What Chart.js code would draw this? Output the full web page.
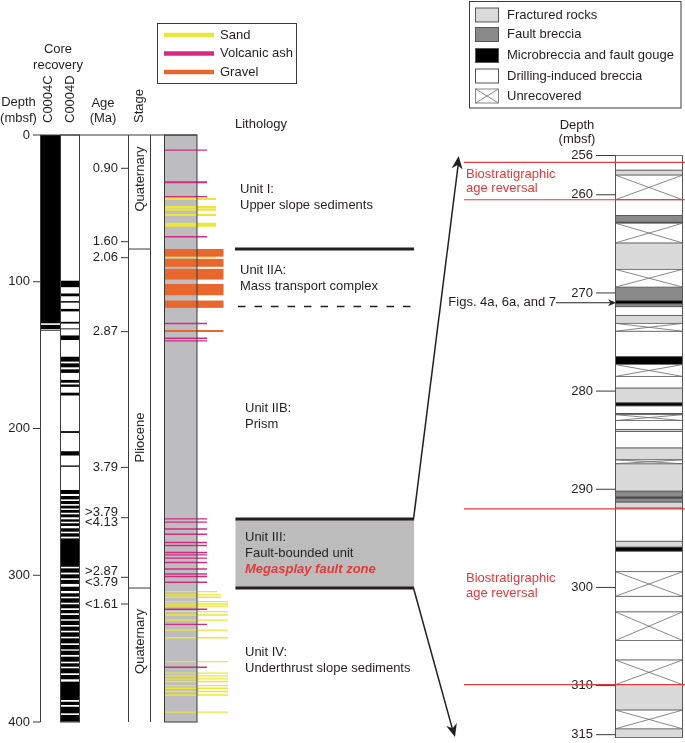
<!DOCTYPE html>
<html>
<head>
<meta charset="utf-8">
<script src="https://cdn.jsdelivr.net/npm/chart.js@4.4.1/dist/chart.umd.min.js"></script>
<style>
  html, body { margin: 0; padding: 0; background: #fff; }
  canvas { display: block; }
</style>
</head>
<body>
<canvas id="core" width="685" height="743"></canvas>
<script>
// ---- left panel: Site C0004, depth in mbsf ----
const depthTicks = [0, 100, 200, 300, 400];

// age picks (mbsf) and their labels (Ma)
const ageDepths = [22.7, 72.7, 83.6, 134.0, 226.5, 260.8, 301.4, 319.6];
const ageLabels = [['0.90'], ['1.60'], ['2.06'], ['2.87'], ['3.79'], ['>3.79', '<4.13'], ['>2.87', '<3.79'], ['<1.61']];

const stageNames = ['Quaternary', 'Pliocene', 'Quaternary'];
const stageBounds = [0, 77.7, 308.7, 400];
const stageLabelDepths = [30.0, 206.1, 345.1];

// recovered core intervals (mbsf)
const recoveryC0004C = [[0, 128.3], [129.4, 132.2], [132.7, 133.3]];
const recoveryC0004D = [
  [99.3, 103.7], [108.0, 109.9], [113.2, 114.2], [118.5, 120.2], [127.3, 128.5], [131.8, 132.4],
  [136.6, 139.7], [151.1, 154.4], [155.6, 158.3], [159.7, 162.1], [166.9, 168.8], [170.0, 171.6],
  [175.6, 177.5], [201.8, 203.0], [215.5, 218.4], [225.2, 226.1],
  [241.9, 244.6], [246.0, 248.3], [249.4, 251.5], [252.6, 254.5], [255.5, 257.4], [258.5, 260.5],
  [261.9, 263.5], [264.6, 266.4], [268.0, 270.3], [271.4, 273.7], [274.9, 294.2], [295.3, 298.2],
  [299.4, 302.1], [303.2, 305.9], [307.8, 310.7], [312.3, 314.6], [315.7, 318.7], [319.8, 322.5],
  [323.7, 325.9], [327.1, 330.0], [331.0, 333.9], [335.0, 337.8], [338.9, 341.9], [343.0, 346.4],
  [347.5, 350.5], [351.4, 354.3], [355.5, 358.9], [360.0, 362.3], [363.4, 366.8], [368.0, 370.9],
  [372.5, 385.0], [386.2, 388.4], [389.6, 394.1], [395.2, 399.8]
];

// lithology picks (mbsf)
const volcanicAsh = [10.3, 32.2, 42.0, 69.3, 128.4, 138.5, 140.3,
  261.6, 263.8, 268.5, 272.1, 277.7, 279.7, 284.5, 286.1, 288.3, 291.3, 295.7, 299.1, 300.9, 304.8,
  323.2, 333.5, 362.7];
const sand = [43.6, 49.2, 50.8, 54.5, 60.6, 61.8, 83.3,
  311.1, 313.4, 315.0, 318.0, 319.6, 321.0, 324.8, 327.1, 330.6, 337.4, 342.6, 358.8,
  366.7, 368.6, 370.6, 372.4, 375.2, 377.0, 379.2, 381.6, 393.3];
const gravel = [[77.7, 82.9], [84.4, 89.8], [91.2, 98.5], [101.5, 109.2], [112.8, 117.8]];
const gravelThin = [133.5];

// lithologic units
const unitNames = ['Unit I:', 'Unit IIA:', 'Unit IIB:', 'Unit III:', 'Unit IV:'];
const unitDescs = ['Upper slope sediments', 'Mass transport complex', 'Prism', 'Fault-bounded unit', 'Underthrust slope sediments'];
const unitLabelDepths = [36.8, 92.0, 186.2, 274.1, 352.8];
const unitBoundarySolid = 77.7;
const unitBoundaryDashed = 116.9;
const faultZone = [261.7, 308.7];

// ---- right panel: megasplay fault zone detail (mbsf) ----
const detailTicks = [256, 260, 270, 280, 290, 300, 310, 315];
const fracturedRocks = [[257.5, 258.0], [264.9, 267.6], [272.3, 273.1], [279.7, 281.2], [283.9, 284.1],
  [285.8, 287.0], [287.4, 290.2], [291.3, 291.9], [295.3, 295.9], [309.9, 312.5], [314.4, 315.3]];
const faultBreccia = [[262.1, 262.8], [269.4, 270.8], [271.1, 271.4], [290.2, 290.8], [290.9, 291.3]];
const microbreccia = [[262.8, 262.9], [270.8, 271.1], [276.5, 277.3], [281.2, 281.5], [282.3, 282.4],
  [290.8, 290.9], [295.9, 296.3]];
const drillingBreccia = [[256.0, 257.5], [260.5, 262.1], [271.4, 272.3], [273.9, 276.5], [278.5, 279.7],
  [281.5, 282.3], [283.0, 283.9], [284.1, 285.8], [291.9, 295.3], [296.3, 298.4], [300.9, 302.5], [305.4, 307.4]];
const unrecovered = [[258.0, 260.5], [262.9, 264.9], [267.6, 269.4], [273.1, 273.9], [277.3, 278.5],
  [282.4, 283.0], [287.0, 287.4], [298.4, 300.9], [302.5, 305.4], [307.4, 309.9], [312.5, 314.4]];
const ageReversals = [[256.7, 260.5], [292.0, 309.9]];
const reversalLabelDepths = [258.6, 299.8];
const figsDepth = 271.0;

// ---- styles ----
const FONT = '13px "Liberation Sans", Arial, sans-serif';
const INK = '#231f20';
const FRAME = '#3a3a3a';
const LITHO_GREY = '#bdbdc1';
const SAND = '#ece63a';
const ASH = '#d62a80';
const GRAVEL = '#e8672c';
const RED = '#e4393b';
const FRACT = '#dadada';
const BRECCIA = '#8a8a8a';

function seg(ctx, x1, y1, x2, y2, color, w, dash) {
  ctx.save();
  ctx.beginPath();
  ctx.strokeStyle = color;
  ctx.lineWidth = w;
  ctx.setLineDash(dash || []);
  ctx.moveTo(x1, y1);
  ctx.lineTo(x2, y2);
  ctx.stroke();
  ctx.restore();
}

function txt(ctx, s, x, y, align, color, font) {
  ctx.save();
  ctx.font = font || FONT;
  ctx.fillStyle = color || INK;
  ctx.textAlign = align || 'left';
  ctx.textBaseline = 'middle';
  ctx.fillText(s, x, y);
  ctx.restore();
}

function vtxt(ctx, s, x, y, align) {
  ctx.save();
  ctx.translate(x, y);
  ctx.rotate(-Math.PI / 2);
  txt(ctx, s, 0, 0, align);
  ctx.restore();
}

function arrowHead(ctx, x1, y1, x2, y2, len, half) {
  const a = Math.atan2(y2 - y1, x2 - x1);
  const bx = x2 - len * Math.cos(a), by = y2 - len * Math.sin(a);
  ctx.save();
  ctx.fillStyle = INK;
  ctx.beginPath();
  ctx.moveTo(x2, y2);
  ctx.lineTo(bx + half * Math.sin(a), by - half * Math.cos(a));
  ctx.lineTo(x2 - 0.7 * len * Math.cos(a), y2 - 0.7 * len * Math.sin(a));
  ctx.lineTo(bx - half * Math.sin(a), by + half * Math.cos(a));
  ctx.closePath();
  ctx.fill();
  ctx.restore();
}

function crossBox(ctx, x1, y1, x2, y2) {
  ctx.save();
  ctx.fillStyle = '#fff';
  ctx.fillRect(x1, y1, x2 - x1, y2 - y1);
  ctx.strokeStyle = '#6a6a6a';
  ctx.lineWidth = 0.8;
  ctx.beginPath();
  ctx.moveTo(x1, y1); ctx.lineTo(x2, y2);
  ctx.moveTo(x2, y1); ctx.lineTo(x1, y2);
  ctx.stroke();
  ctx.strokeRect(x1, y1, x2 - x1, y2 - y1);
  ctx.restore();
}

const drawCore = {
  id: 'drawCore',
  afterDraw(chart) {
    const ctx = chart.ctx;
    const L = v => chart.scales.yL.getPixelForValue(v);
    const R = v => chart.scales.yR.getPixelForValue(v);
    const top = L(0), bot = L(400);

    // core recovery columns
    ctx.fillStyle = '#000';
    recoveryC0004C.forEach(([a, b]) => ctx.fillRect(40, L(a), 20, L(b) - L(a)));
    recoveryC0004D.forEach(([a, b]) => ctx.fillRect(60.5, L(a), 19, L(b) - L(a)));

    // lithology column
    ctx.fillStyle = LITHO_GREY;
    ctx.fillRect(164, top, 33, bot - top);
    sand.forEach(d => {
      const reach = d < 150 ? 216 : (d < 312 ? 217 : (d < 316 ? 221 : 228));
      seg(ctx, 164, L(d), reach, L(d), SAND, d < 150 ? 2.2 : 1.3);
    });
    volcanicAsh.forEach(d => seg(ctx, 164, L(d), 207, L(d), ASH, d === 32.2 ? 2.2 : 1.4));
    ctx.fillStyle = GRAVEL;
    gravel.forEach(([a, b]) => ctx.fillRect(164, L(a), 59.5, L(b) - L(a)));
    gravelThin.forEach(d => seg(ctx, 164, L(d), 223.5, L(d), GRAVEL, 2));

    // column frames
    ctx.save();
    ctx.strokeStyle = FRAME;
    ctx.lineWidth = 1;
    ctx.strokeRect(164.5, top, 32.5, bot - top);
    ctx.strokeRect(60.5, top, 19, bot - top);
    [40.5, 128.5, 150.5].forEach(x => seg(ctx, x, top, x, bot, FRAME, 1));
    seg(ctx, 40, top, 197, top, FRAME, 1.2);
    ctx.restore();

    // depth axis
    depthTicks.forEach(v => {
      seg(ctx, 33, L(v), 40.5, L(v), FRAME, 1);
      txt(ctx, String(v), 30, L(v), 'right');
    });

    // age picks
    ageDepths.forEach((d, i) => {
      seg(ctx, 121, L(d), 128.5, L(d), FRAME, 1);
      const lab = ageLabels[i];
      if (lab.length === 1) txt(ctx, lab[0], 118, L(d), 'right');
      else { txt(ctx, lab[0], 118, L(d) - 5.5, 'right'); txt(ctx, lab[1], 118, L(d) + 5, 'right'); }
    });

    // stages
    stageBounds.slice(1, -1).forEach(d => seg(ctx, 128.5, L(d), 150.5, L(d), FRAME, 1));
    stageNames.forEach((s, i) => vtxt(ctx, s, 140, L(stageLabelDepths[i]), 'center'));

    // units
    ctx.fillStyle = '#bcbcbc';
    ctx.fillRect(235.5, L(faultZone[0]), 178.5, L(faultZone[1]) - L(faultZone[0]));
    faultZone.forEach(d => seg(ctx, 235.5, L(d), 414, L(d), INK, 3));
    seg(ctx, 235, L(unitBoundarySolid), 414, L(unitBoundarySolid), INK, 3.2);
    seg(ctx, 238, L(unitBoundaryDashed), 414, L(unitBoundaryDashed), INK, 1.6, [7.5, 9]);
    unitNames.forEach((n, i) => {
      const y = L(unitLabelDepths[i]);
      const x = i < 2 ? 240 : 245;
      txt(ctx, n, x, y, 'left');
      txt(ctx, unitDescs[i], x, y + 16, 'left');
    });
    txt(ctx, 'Megasplay fault zone', 245, L(unitLabelDepths[3]) + 32, 'left', RED,
      'italic bold 13px "Liberation Sans", Arial, sans-serif');

    // ---- right panel ----
    const xa = 615.5, xb = 682.5;
    const box = (list, fill) => list.forEach(([a, b]) => {
      ctx.save();
      ctx.fillStyle = fill;
      ctx.fillRect(xa, R(a), xb - xa, R(b) - R(a));
      ctx.strokeStyle = '#555';
      ctx.lineWidth = 0.8;
      ctx.strokeRect(xa, R(a), xb - xa, R(b) - R(a));
      ctx.restore();
    });
    box(drillingBreccia, '#fff');
    box(fracturedRocks, FRACT);
    box(faultBreccia, BRECCIA);
    box(microbreccia, '#000');
    unrecovered.forEach(([a, b]) => crossBox(ctx, xa, R(a), xb, R(b)));
    seg(ctx, xa, R(256), xa, R(315.3), '#555', 1);
    seg(ctx, xb, R(256), xb, R(315.3), '#555', 1);

    detailTicks.forEach(v => {
      seg(ctx, 596, R(v), xa, R(v), FRAME, 1);
      txt(ctx, String(v), 593, R(v), 'right');
    });

    ageReversals.forEach(([a, b], i) => {
      seg(ctx, 464, R(a), 685, R(a), RED, 1.1);
      seg(ctx, 464, R(b), 685, R(b), RED, 1.1);
      const y = R(reversalLabelDepths[i]);
      txt(ctx, 'Biostratigraphic', 466, y - 7, 'left', RED);
      txt(ctx, 'age reversal', 466, y + 7.5, 'left', RED);
    });

    // pointer to figures
    const yf = R(figsDepth);
    txt(ctx, 'Figs. 4a, 6a, and 7', 556, yf, 'right');
    seg(ctx, 556, yf, 610, yf, INK, 1);
    arrowHead(ctx, 556, yf, 616, yf, 8, 3.5);

    // zoom arrows from the fault zone box
    const x0 = 413.5;
    const t0 = L(faultZone[0]), t1 = R(256.05);
    seg(ctx, x0, t0, 458.5, t1 + 6, INK, 1.5);
    arrowHead(ctx, x0, t0, 458.7, t1, 13, 5.5);
    const b0 = L(faultZone[1]), b1 = R(315.25);
    seg(ctx, x0, b0, 453, b1 - 6, INK, 1.5);
    arrowHead(ctx, x0, b0, 455, b1, 13, 5.5);

    // ---- headers ----
    txt(ctx, 'Depth', 18.5, 102, 'center');
    txt(ctx, '(mbsf)', 18.5, 118, 'center');
    txt(ctx, 'Core', 58, 49, 'center');
    txt(ctx, 'recovery', 58, 65, 'center');
    vtxt(ctx, 'C0004C', 48.5, 123, 'left');
    vtxt(ctx, 'C0004D', 70, 123, 'left');
    txt(ctx, 'Age', 103, 103, 'center');
    txt(ctx, '(Ma)', 103, 118, 'center');
    vtxt(ctx, 'Stage', 139.5, 123, 'left');
    txt(ctx, 'Lithology', 235, 124, 'left');
    txt(ctx, 'Depth', 577, 125, 'center');
    txt(ctx, '(mbsf)', 577, 139, 'center');

    // ---- legend: lithology ----
    ctx.save();
    ctx.strokeStyle = FRAME;
    ctx.lineWidth = 1;
    ctx.strokeRect(157.5, 23.5, 139, 60);
    ctx.restore();
    [['Sand', SAND, 35], ['Volcanic ash', ASH, 53.5], ['Gravel', GRAVEL, 72]].forEach(([s, c, y]) => {
      seg(ctx, 164, y, 214, y, c, 4.5);
      txt(ctx, s, 220, y, 'left');
    });

    // ---- legend: fault zone ----
    ctx.save();
    ctx.strokeStyle = FRAME;
    ctx.lineWidth = 1;
    ctx.strokeRect(469.5, 1.5, 211.5, 106.5);
    ctx.restore();
    const lg = [['Fractured rocks', FRACT, 15], ['Fault breccia', BRECCIA, 34.5], ['Microbreccia and fault gouge', '#000', 55.5],
      ['Drilling-induced breccia', '#fff', 76], ['Unrecovered', null, 96]];
    lg.forEach(([s, c, y]) => {
      if (c) {
        ctx.save();
        ctx.fillStyle = c;
        ctx.fillRect(475.5, y - 7, 23, 14);
        ctx.strokeStyle = '#555';
        ctx.lineWidth = 1;
        ctx.strokeRect(475.5, y - 7, 23, 14);
        ctx.restore();
      } else {
        crossBox(ctx, 475.5, y - 7, 498.5, y + 7);
      }
      txt(ctx, s, 507, y, 'left');
    });
  }
};

// right panel scale: 256 mbsf at y≈155.5 px, 9.82 px per metre, sharing the left panel's plot area
const rightMin = 253.91, rightMax = 313.71;

new Chart(document.getElementById('core'), {
  type: 'scatter',
  data: { datasets: [] },
  options: {
    responsive: false,
    animation: false,
    layout: { padding: { top: 135, bottom: 21, left: 0, right: 0 } },
    plugins: { legend: { display: false }, tooltip: { enabled: false } },
    scales: {
      x: { type: 'linear', display: false, min: 0, max: 685 },
      yL: { type: 'linear', display: false, reverse: true, min: 0, max: 400 },
      yR: { type: 'linear', display: false, reverse: true, min: rightMin, max: rightMax, position: 'right' }
    }
  },
  plugins: [drawCore]
});
</script>
</body>
</html>
